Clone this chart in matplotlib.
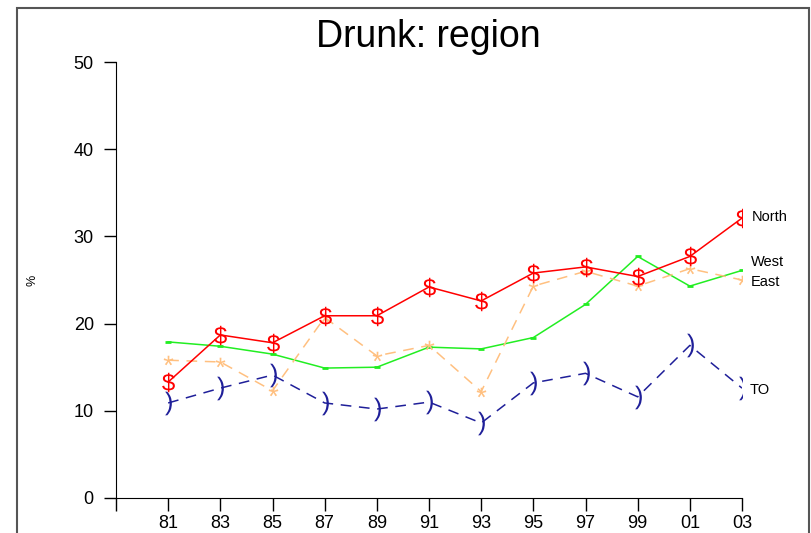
import matplotlib
matplotlib.use("Agg")
import matplotlib.pyplot as plt
from matplotlib.patches import Rectangle

plt.rcParams['font.family'] = ['Liberation Sans', 'DejaVu Sans']
plt.rcParams['mathtext.fontset'] = 'custom'
plt.rcParams['mathtext.rm'] = 'Liberation Sans'
plt.rcParams['mathtext.it'] = 'Liberation Sans'

# dane
years = [1981, 1983, 1985, 1987, 1989, 1991, 1993, 1995, 1997, 1999, 2001, 2003]
tick_years = [1979] + years
tick_labels = [""] + ["81", "83", "85", "87", "89", "91", "93", "95", "97", "99", "01", "03"]

north = [13.3, 18.7, 17.8, 20.9, 20.9, 24.2, 22.6, 25.8, 26.5, 25.4, 27.7, 32.1]
west = [17.9, 17.4, 16.5, 14.9, 15.0, 17.3, 17.1, 18.4, 22.2, 27.7, 24.3, 26.1]
east = [15.8, 15.6, 12.3, 20.7, 16.3, 17.5, 12.2, 24.3, 26.0, 24.3, 26.3, 25.0]
to = [10.9, 12.6, 14.1, 10.9, 10.2, 11.0, 8.6, 13.2, 14.3, 11.6, 17.5, 12.6]

fig = plt.figure(figsize=(8.11, 5.33), dpi=100)
ax = fig.add_axes([116 / 811, 1 - 498 / 533, (742 - 116) / 811, (498 - 62) / 533])

ax.plot(years, west, color="#22ee22", lw=1.1, marker="_", ms=4, mew=2)
ax.plot(years, east, color="#ffc080", lw=1.1, ls=(0, (7, 5)), marker=r"$\mathrm{*}$", ms=7, mew=0)
ax.plot(years, to, color="#1f1f99", lw=1.1, ls=(0, (7, 5)), marker=r"$\mathrm{)}$", ms=17, mew=0)
ax.plot(years, north, color="#ff0000", lw=1.1, marker=r"$\mathrm{\$}$", ms=14, mew=0)

# etykiety serii przy ostatnim punkcie
ax.annotate("North", (years[-1], north[-1]), xytext=(10, 1), textcoords="offset pixels",
            va="center", fontsize=10.5)
ax.annotate("West", (years[-1], west[-1]), xytext=(9, 8), textcoords="offset pixels",
            va="center", fontsize=10.5)
ax.annotate("East", (years[-1], east[-1]), xytext=(9, -2), textcoords="offset pixels",
            va="center", fontsize=10.5)
ax.annotate("TO", (years[-1], to[-1]), xytext=(8, -2), textcoords="offset pixels",
            va="center", fontsize=10.5)

ax.set_xlim(1979, 2003)
ax.set_ylim(0, 50)
ax.set_xticks(tick_years)
ax.set_xticklabels(tick_labels)
ax.set_yticks([0, 10, 20, 30, 40, 50])
ax.tick_params(labelsize=13, length=9, width=1)
ax.tick_params(axis="y", pad=7)
ax.tick_params(axis="x", pad=3)
ax.spines["top"].set_visible(False)
ax.spines["right"].set_visible(False)

fig.text(428 / 811, 1 - 47 / 533, "Drunk: region", ha="center", va="baseline", fontsize=27)
fig.text(32 / 811, 1 - 280 / 533, "%", rotation=90, ha="center", va="center", fontsize=9)

fig.patches.append(Rectangle((17 / 811, -0.1), (809 - 17) / 811, 1.1 - 8 / 533,
                             transform=fig.transFigure, fill=False,
                             edgecolor="#555555", lw=1.5))

fig.savefig("out.png", dpi=100)
